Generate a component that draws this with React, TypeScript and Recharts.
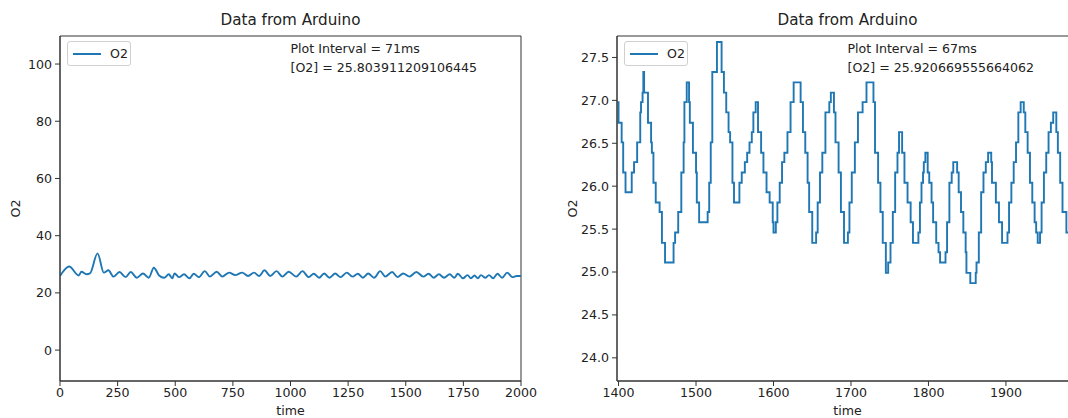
import React from "react";
import { LineChart, Line, XAxis, YAxis, ReferenceArea } from "recharts";

const FONT = "'DejaVu Sans', sans-serif";
const BLUE = "#1f77b4";
const INK = "#222";

// left panel: the whole run
const leftTime = [
  0, 40, 81, 93, 115, 130, 163, 190, 210, 232,
  258, 285, 307, 333, 360, 385, 407, 430, 452, 472,
  487, 497, 517, 538, 562, 580, 602, 628, 650, 680,
  704, 734, 760, 790, 816, 842, 864, 887, 912, 939,
  965, 992, 1025, 1052, 1079, 1101, 1124, 1146, 1169, 1194,
  1217, 1244, 1269, 1292, 1314, 1337, 1363, 1389, 1411, 1441,
  1464, 1489, 1516, 1546, 1576, 1599, 1621, 1644, 1666, 1691,
  1711, 1726, 1748, 1768, 1783, 1798, 1813, 1826, 1846, 1861,
  1879, 1898, 1918, 1940, 1963, 1981, 2000,
];
const leftO2 = [
  25.9, 29.2, 26.1, 27.4, 26.5, 26.8, 33.8, 27.1, 27.9, 25.7,
  27.3, 25.5, 27.3, 25.3, 26.8, 25.3, 28.8, 26.1, 25.3, 26.5,
  25.1, 26.8, 25.5, 26.5, 25.1, 26.7, 25.5, 27.6, 25.7, 27.4,
  25.7, 27.1, 26.2, 27.1, 25.9, 27.1, 25.9, 27.9, 25.9, 27.6,
  25.7, 27.4, 25.7, 27.6, 25.5, 26.7, 25.3, 26.8, 25.3, 26.8,
  25.5, 27.1, 25.7, 26.7, 25.3, 26.8, 25.3, 27.6, 25.7, 27.3,
  25.5, 26.8, 25.7, 27.3, 25.7, 26.7, 25.3, 26.5, 25.3, 26.5,
  25.3, 26.7, 25.1, 26.2, 25.1, 26.1, 25.1, 26.2, 25.3, 26.2,
  25.1, 26.7, 25.3, 27.1, 25.5, 25.9, 25.9,
];
const leftXTicks = [0, 250, 500, 750, 1000, 1250, 1500, 1750, 2000];
const leftYTicks = [0, 20, 40, 60, 80, 100];

// right panel: last window, time at which the sensor reading steps
const rightTime = [
  1398, 1400, 1404, 1406, 1409, 1417, 1420, 1424, 1428, 1429,
  1431, 1432, 1433, 1438, 1442, 1443, 1445, 1448, 1453, 1456,
  1460, 1471, 1473, 1477, 1481, 1484, 1485, 1488, 1491, 1492,
  1496, 1500, 1501, 1504, 1515, 1517, 1519, 1521, 1527, 1533,
  1536, 1539, 1542, 1544, 1547, 1549, 1556, 1559, 1563, 1566,
  1569, 1572, 1574, 1577, 1580, 1584, 1587, 1591, 1595, 1599,
  1600, 1603, 1605, 1608, 1611, 1614, 1618, 1622, 1626, 1635,
  1638, 1641, 1644, 1646, 1650, 1655, 1657, 1660, 1663, 1667,
  1672, 1674, 1678, 1680, 1684, 1687, 1691, 1696, 1698, 1701,
  1705, 1709, 1715, 1720, 1729, 1731, 1735, 1738, 1741, 1745,
  1748, 1751, 1754, 1757, 1760, 1762, 1766, 1769, 1773, 1777,
  1780, 1787, 1789, 1791, 1793, 1794, 1796, 1799, 1801, 1804,
  1806, 1810, 1813, 1815, 1822, 1824, 1827, 1830, 1832, 1837,
  1839, 1842, 1845, 1848, 1849, 1854, 1861, 1862, 1865, 1868,
  1871, 1874, 1877, 1881, 1882, 1887, 1891, 1895, 1902, 1904,
  1907, 1910, 1913, 1916, 1919, 1923, 1925, 1928, 1931, 1934,
  1937, 1939, 1941, 1944, 1946, 1949, 1952, 1955, 1958, 1961,
  1965, 1967, 1970, 1973, 1978, 1982, 1993,
];
const rightO2 = [
  26.98, 26.74, 26.51, 26.16, 25.93, 26.16, 26.28, 26.51, 26.86, 26.98,
  27.09, 27.33, 27.09, 26.74, 26.51, 26.39, 26.04, 25.81, 25.7, 25.34,
  25.11, 25.34, 25.46, 25.7, 26.16, 26.51, 26.98, 27.21, 26.98, 26.74,
  26.39, 26.16, 25.81, 25.58, 25.7, 26.04, 26.51, 27.33, 27.68, 27.33,
  27.09, 26.86, 26.63, 26.51, 26.04, 25.81, 26.04, 26.16, 26.28, 26.39,
  26.51, 26.63, 26.86, 26.98, 26.63, 26.39, 26.16, 25.93, 25.81, 25.58,
  25.46, 25.58, 25.81, 26.04, 26.28, 26.39, 26.63, 26.98, 27.21, 26.98,
  26.63, 26.39, 26.04, 25.7, 25.34, 25.46, 25.81, 26.16, 26.39, 26.86,
  26.98, 27.09, 26.86, 26.51, 26.16, 25.7, 25.34, 25.46, 25.81, 26.16,
  26.51, 26.86, 26.98, 27.21, 26.98, 26.39, 26.04, 25.7, 25.34, 24.99,
  25.11, 25.34, 25.7, 26.16, 26.39, 26.63, 26.39, 26.04, 25.81, 25.58,
  25.34, 25.46, 25.81, 26.04, 26.16, 26.28, 26.39, 26.16, 26.04, 25.81,
  25.58, 25.34, 25.23, 25.11, 25.23, 25.58, 26.04, 26.16, 26.28, 26.16,
  25.93, 25.7, 25.46, 25.23, 24.99, 24.87, 24.99, 25.11, 25.46, 25.93,
  26.16, 26.28, 26.39, 26.28, 26.04, 25.81, 25.58, 25.34, 25.46, 25.81,
  26.04, 26.28, 26.51, 26.86, 26.98, 26.86, 26.63, 26.39, 26.04, 25.81,
  25.58, 25.46, 25.34, 25.46, 25.81, 26.16, 26.39, 26.63, 26.74, 26.86,
  26.63, 26.39, 26.04, 25.7, 25.46, 25.34, 25.34,
];
const rightXTicks = [1400, 1500, 1600, 1700, 1800, 1900];
const rightYTicks = [24, 24.5, 25, 25.5, 26, 26.5, 27, 27.5];

const leftData = leftTime.map((t, i) => ({ time: t, o2: leftO2[i] }));
const rightData = rightTime.map((t, i) => ({ time: t, o2: rightO2[i] }));

const tickStyle = { fill: INK, fontSize: 12.6, fontFamily: FONT };

const yLabel = (props: any) => {
  const { viewBox } = props;
  const x = viewBox.x + 15;
  const y = viewBox.y + viewBox.height / 2;
  return (
    <text x={x} y={y} transform={`rotate(-90 ${x} ${y})`} textAnchor="middle" dominantBaseline="central" fill={INK} fontSize={12.6} fontFamily={FONT}>
      O2
    </text>
  );
};

type PanelProps = {
  left: number;
  data: { time: number; o2: number }[];
  xDomain: [number, number];
  xTicks: number[];
  yDomain: [number, number];
  yTicks: number[];
  curve: "monotone" | "stepAfter";
  yFormat: (v: number) => string;
  interval: string;
  reading: string;
};

const Panel = ({ left, data, xDomain, xTicks, yDomain, yTicks, curve, yFormat, interval, reading }: PanelProps) => {
  const W = 540;
  const H = 418;
  const plotLeft = 60;
  const plotRight = 521;
  const cx = (plotLeft + plotRight) / 2;
  return (
    <div style={{ position: "absolute", left, top: 0, width: W, height: H }}>
      <LineChart width={W} height={H} data={data} margin={{ top: 36, right: 19, bottom: 0, left: 0 }}>
        <XAxis
          dataKey="time"
          type="number"
          domain={xDomain}
          ticks={xTicks}
          interval={0}
          allowDataOverflow
          height={37}
          tickSize={5}
          tickMargin={2}
          stroke="#333"
          tick={tickStyle}
          label={{ value: "time", position: "insideBottom", offset: 3, fill: INK, fontSize: 12.6, fontFamily: FONT }}
        />
        <YAxis
          type="number"
          domain={yDomain}
          ticks={yTicks}
          interval={0}
          allowDataOverflow
          width={60}
          tickSize={5}
          tickMargin={3}
          stroke="#333"
          tick={tickStyle}
          tickFormatter={yFormat}
          label={yLabel}
        />
        <ReferenceArea x1={xDomain[0]} x2={xDomain[1]} y1={yDomain[0]} y2={yDomain[1]} fill="none" stroke="#333" strokeWidth={1} ifOverflow="visible" />
        <Line dataKey="o2" type={curve} stroke={BLUE} strokeWidth={1.9} dot={false} isAnimationActive={false} />
      </LineChart>

      <div style={{ position: "absolute", left: plotLeft, width: plotRight - plotLeft, top: 11, textAlign: "center", fontFamily: FONT, fontSize: 15.2, color: INK }}>
        Data from Arduino
      </div>
      <div style={{ position: "absolute", left: cx, top: 39, fontFamily: FONT, fontSize: 12.6, lineHeight: "19px", color: INK, whiteSpace: "pre" }}>
        {`Plot Interval = ${interval}\n[O2] = ${reading}`}
      </div>
      <div style={{ position: "absolute", left: plotLeft + 7, top: 41, width: 64, height: 25, boxSizing: "border-box", border: "1px solid #d0d0d0", borderRadius: 3, background: "rgba(255,255,255,0.8)" }}>
        <div style={{ position: "absolute", left: 5, top: 11, width: 28, height: 2, background: BLUE }} />
        <div style={{ position: "absolute", left: 42, top: 4, fontFamily: FONT, fontSize: 12.6, color: INK }}>O2</div>
      </div>
    </div>
  );
};

const App = () => {
  return (
    <div style={{ position: "fixed", left: 0, top: 0, width: 1068, height: 418, overflow: "hidden", background: "#fff" }}>
      <Panel
        left={0}
        data={leftData}
        xDomain={[0, 2000]}
        xTicks={leftXTicks}
        yDomain={[-10.8, 109.8]}
        yTicks={leftYTicks}
        curve="monotone"
        yFormat={(v) => String(v)}
        interval="71ms"
        reading="25.803911209106445"
      />
      <Panel
        left={557}
        data={rightData}
        xDomain={[1398, 1993]}
        xTicks={rightXTicks}
        yDomain={[23.73, 27.75]}
        yTicks={rightYTicks}
        curve="stepAfter"
        yFormat={(v) => v.toFixed(1)}
        interval="67ms"
        reading="25.920669555664062"
      />
    </div>
  );
};

export default App;
